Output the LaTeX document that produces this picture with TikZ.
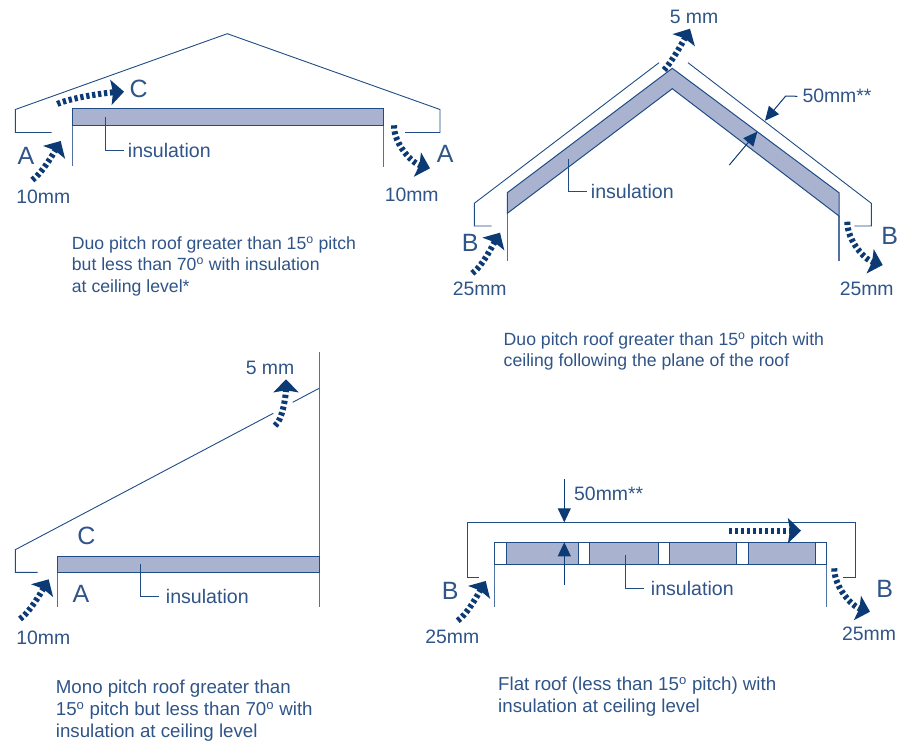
\documentclass[tikz,border=0pt]{standalone}
\usepackage{fontspec}
\setmainfont{Liberation Sans}
\usetikzlibrary{arrows.meta}
\definecolor{inkline}{HTML}{1F4C85}
\definecolor{inkwall}{HTML}{4F72A3}
\definecolor{inkair}{HTML}{0B3A75}
\definecolor{inktext}{HTML}{2F5488}
\definecolor{insfill}{HTML}{A9B3D0}
\tikzset{
  thinline/.style={draw=inkline,line width=0.9pt,line join=miter},
  wall/.style={draw=inkwall,line width=1.1pt},
  insblock/.style={draw=inkline,fill=insfill,line width=1pt},
  air/.style={draw=inkair,line width=6pt,dash pattern=on 3.3pt off 2.7pt,
    -{Stealth[length=13pt,width=25pt,inset=2pt]}},
  dim/.style={draw=inkair,line width=1pt,-{Stealth[length=14pt,width=13pt,inset=0pt]}},
  caption/.style={text=inktext,font=\fontsize{17.65}{21.3}\selectfont,align=left,inner sep=0pt,anchor=north west},
  captionb/.style={caption,font=\fontsize{18.7}{22}\selectfont},
  size/.style={text=inktext,font=\fontsize{19.4}{22}\selectfont,inner sep=0pt},
  letter/.style={text=inktext,font=\fontsize{25}{28}\selectfont,inner sep=0pt},
  inslabel/.style={text=inktext,font=\fontsize{19.6}{22}\selectfont,inner sep=0pt,anchor=west}
}
\begin{document}
\begin{tikzpicture}[x=1pt,y=-1pt]
\useasboundingbox (0,0) rectangle (908,740);
% ---------- Diagram 1: duo pitch, ceiling insulation
\draw[thinline] (51.7,132.5) -- (15.3,132.5) -- (15.3,109.5) -- (227.3,33.7) -- (440,109.5) -- (440,132.5) -- (405,132.5);
\draw[wall] (72.7,125) -- (72.7,165.7);
\draw[wall] (383.7,125) -- (383.7,166.7);
\draw[insblock] (72.7,108) rectangle (383.7,125.3);
\node[inslabel] (ins1) at (127.7,150.3) {insulation};
\coordinate (ins1a) at (105,117.3);
\draw[thinline] (ins1a) |- ([xshift=-4pt]ins1.west);
\coordinate (a1s) at (32.3,180); \coordinate (a1t) at (60.7,141);
\draw[air] (a1s) .. controls +(10,-7) and +(-7,12) .. (a1t);
\coordinate (c1s) at (57.3,104); \coordinate (c1t) at (124,91.7);
\draw[air] (c1s) .. controls +(12,-6) and +(-18,1) .. (c1t);
\coordinate (a2s) at (394,125.3); \coordinate (a2t) at (430,168.3);
\draw[air] (a2s) .. controls +(0,20) and +(-17,-5) .. (a2t);
\node[letter] (lC1) at (138.7,89) {C};
\node[letter] (lA1) at (26,156) {A};
\node[letter] (lA2) at (445.3,154) {A};
\node[size] (s1) at (43.3,196.7) {10mm};
\node[size] (s2) at (411.7,195.3) {10mm};
\node[caption] (cap1) at (71.7,236.5) {Duo pitch roof greater than 15\textsuperscript{o} pitch\\but less than 70\textsuperscript{o} with insulation\\at ceiling level*};
% ---------- Diagram 2: duo pitch, sloped ceiling
\draw[thinline] (491.7,226) -- (474.3,226) -- (474.3,203.3) -- (659,62.7);
\draw[thinline] (688,62.7) -- (871.3,203.3) -- (871.3,226) -- (854.3,226);
\draw[wall] (507.3,213) -- (507.3,261.3);
\draw[wall] (839,216) -- (839,261.3);
\draw[insblock] (507.3,192.7) -- (672.3,68.3) -- (839,192.7) -- (839,216) -- (672.3,88.7) -- (507.3,213.3) -- cycle;
\node[inslabel] (ins2) at (590.7,191.7) {insulation};
\coordinate (ins2a) at (568.3,159.3);
\draw[thinline] (ins2a) |- ([xshift=-4pt]ins2.west);
\coordinate (b1s) at (472.3,273.3); \coordinate (b1t) at (500,232.7);
\draw[air] (b1s) .. controls +(10,-7) and +(-7,12) .. (b1t);
\coordinate (b2s) at (847.3,221.7); \coordinate (b2t) at (882.7,265);
\draw[air] (b2s) .. controls +(0,20) and +(-17,-5) .. (b2t);
\coordinate (r1s) at (664,70); \coordinate (r1t) at (690,28.7);
\draw[air] (r1s) .. controls +(8,-8) and +(-6,11) .. (r1t);
\node[size] (s3) at (694,16.7) {5 mm};
\node[size,anchor=west] (d1) at (802.3,96.3) {50mm**};
\coordinate (d1t) at (765,120.7); \coordinate (d1k) at (785.7,96);
\draw[dim] ([xshift=-5pt]d1.west) -- (d1k) -- (d1t);
\coordinate (d2s) at (729.3,165); \coordinate (d2t) at (757.3,131.7);
\draw[dim] (d2s) -- (d2t);
\node[letter] (lB1) at (470.3,242.7) {B};
\node[letter] (lB2) at (889.7,236) {B};
\node[size] (s4) at (479.7,289.3) {25mm};
\node[size] (s5) at (866.7,289.3) {25mm};
\node[caption] (cap2) at (503.5,332.5) {Duo pitch roof greater than 15\textsuperscript{o} pitch with\\ceiling following the plane of the roof};
% ---------- Diagram 3: mono pitch
\draw[thinline] (37.7,572.3) -- (15.3,572.3) -- (15.3,549.7) -- (273.3,413.3);
\draw[thinline] (292.7,402.3) -- (319.7,388);
\draw[wall] (319.7,352) -- (319.7,607.3);
\draw[wall] (57.7,572) -- (57.7,607.3);
\draw[insblock] (57.7,556.3) rectangle (319.7,572.3);
\node[inslabel] (ins3) at (165.7,596) {insulation};
\coordinate (ins3a) at (140.3,564);
\draw[thinline] (ins3a) |- ([xshift=-7pt]ins3.west);
\coordinate (m1s) at (20,619); \coordinate (m1t) at (48.7,579.3);
\draw[air] (m1s) .. controls +(10,-7) and +(-7,12) .. (m1t);
\coordinate (m2s) at (275,425.7); \coordinate (m2t) at (286,379.3);
\draw[air] (m2s) .. controls +(8,-6) and +(0,14) .. (m2t);
\node[letter] (lC3) at (86.3,536) {C};
\node[letter] (lA3) at (81,594.3) {A};
\node[size] (s6) at (43.3,638.3) {10mm};
\node[size] (s7) at (270,368.3) {5 mm};
\node[captionb] (cap3) at (55.7,680) {Mono pitch roof greater than\\15\textsuperscript{o} pitch but less than 70\textsuperscript{o} with\\insulation at ceiling level};
% ---------- Diagram 4: flat roof
\draw[thinline] (479,577.3) -- (467,577.3) -- (467,522.7) -- (855.3,522.7) -- (855.3,577.3) -- (843.3,577.3);
\draw[wall] (494.7,564) -- (494.7,607);
\draw[wall] (826.7,564) -- (826.7,607);
\draw[insblock,fill=white] (494.7,542.3) rectangle (826.7,564);
\foreach \xa/\xb in {506/578,589.7/658.3,669.3/736.7,748.3/815.7}
  \draw[insblock] (\xa,542.3) rectangle (\xb,564);
\node[inslabel] (ins4) at (650.7,588.3) {insulation};
\coordinate (ins4a) at (625,555.3);
\draw[thinline] (ins4a) |- ([xshift=-7pt]ins4.west);
\node[size,anchor=west] (d3) at (574,494) {50mm**};
\coordinate (d3s) at (564.3,479); \coordinate (d3t) at (564.3,522.3);
\draw[dim] (d3s) -- (d3t);
\coordinate (d4s) at (564.3,585); \coordinate (d4t) at (564.3,542.3);
\draw[dim] (d4s) -- (d4t);
\coordinate (f1s) at (457.7,620.7); \coordinate (f1t) at (485.7,581);
\draw[air] (f1s) .. controls +(10,-7) and +(-7,12) .. (f1t);
\coordinate (f2s) at (834.3,568.3); \coordinate (f2t) at (870,611.7);
\draw[air] (f2s) .. controls +(0,20) and +(-17,-5) .. (f2t);
\coordinate (f3s) at (729,530.7); \coordinate (f3t) at (801,530.7);
\draw[air] (f3s) -- (f3t);
\node[letter] (lB3) at (450.3,591) {B};
\node[letter] (lB4) at (884.7,589.3) {B};
\node[size] (s8) at (452.3,636.7) {25mm};
\node[size] (s9) at (869,634) {25mm};
\node[captionb] (cap4) at (498,677) {Flat roof (less than 15\textsuperscript{o} pitch) with\\insulation at ceiling level};
\end{tikzpicture}
\end{document}
